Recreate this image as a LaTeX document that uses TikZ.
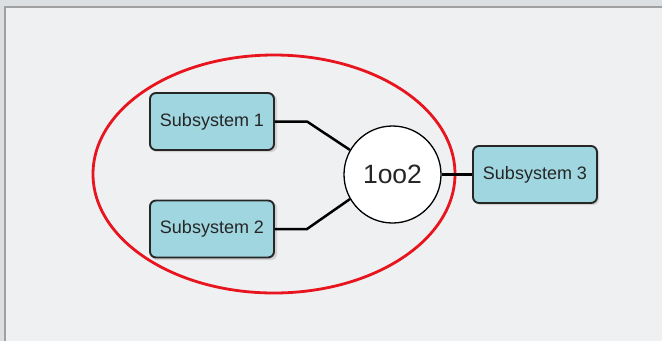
\documentclass[tikz,border=0pt]{standalone}
\usepackage{fontspec}
\setmainfont{Liberation Sans}
\definecolor{outerbg}{HTML}{DCDFE2}
\definecolor{panelbg}{HTML}{EEF0F2}
\definecolor{panelline}{HTML}{A0A0A0}
\definecolor{boxfill}{HTML}{A0D6E0}
\definecolor{ringred}{HTML}{E8141E}
\begin{document}
\begin{tikzpicture}[x=1pt,y=-1pt,
  subbox/.style={draw=black!85, line width=1.9pt, fill=boxfill, rounded corners=6pt,
    minimum width=124pt, minimum height=57pt, inner sep=0pt, text=black!85,
    font=\fontsize{18}{20}\selectfont},
  voter/.style={circle, draw=black, line width=1.3pt, fill=white, minimum size=97pt, inner sep=0pt,
    font=\fontsize{26.5}{28}\selectfont, text=black!85},
  wire/.style={line width=2.5pt, black}]
  % page and panel
  \fill[outerbg] (0,0) rectangle (662,341);
  \useasboundingbox (0,0) rectangle (662,341);
  \fill[panelbg] (5,7) rectangle (662,341);
  \draw[panelline, line width=1.2pt] (5,341) -- (5,7) -- (662,7);
  % grouping ellipse
  \draw[ringred, line width=2.8pt] (274,174) ellipse [x radius=181, y radius=119];
  % soft shadows behind the boxes
  \fill[black!18, rounded corners=6pt] (151,94) rectangle (277,152);
  \fill[black!18, rounded corners=6pt] (151,202) rectangle (277,260);
  \fill[black!18, rounded corners=6pt] (475,148) rectangle (599,205);
  % nodes
  \node[subbox] (s1) at (212,121.5) {Subsystem 1};
  \node[subbox] (s2) at (212,229) {Subsystem 2};
  \node[subbox] (s3) at (535,174.5) {Subsystem 3};
  \node[voter] (v) at (392.5,174.5) {1oo2};
  % connections
  \coordinate (k1) at (307,121.5);
  \coordinate (k2) at (307,229);
  \draw[wire] (s1.east) -- (k1) -- (v.150);
  \draw[wire] (s2.east) -- (k2) -- (v.210);
  \draw[wire] (v.east) -- (s3.west);
\end{tikzpicture}
\end{document}
